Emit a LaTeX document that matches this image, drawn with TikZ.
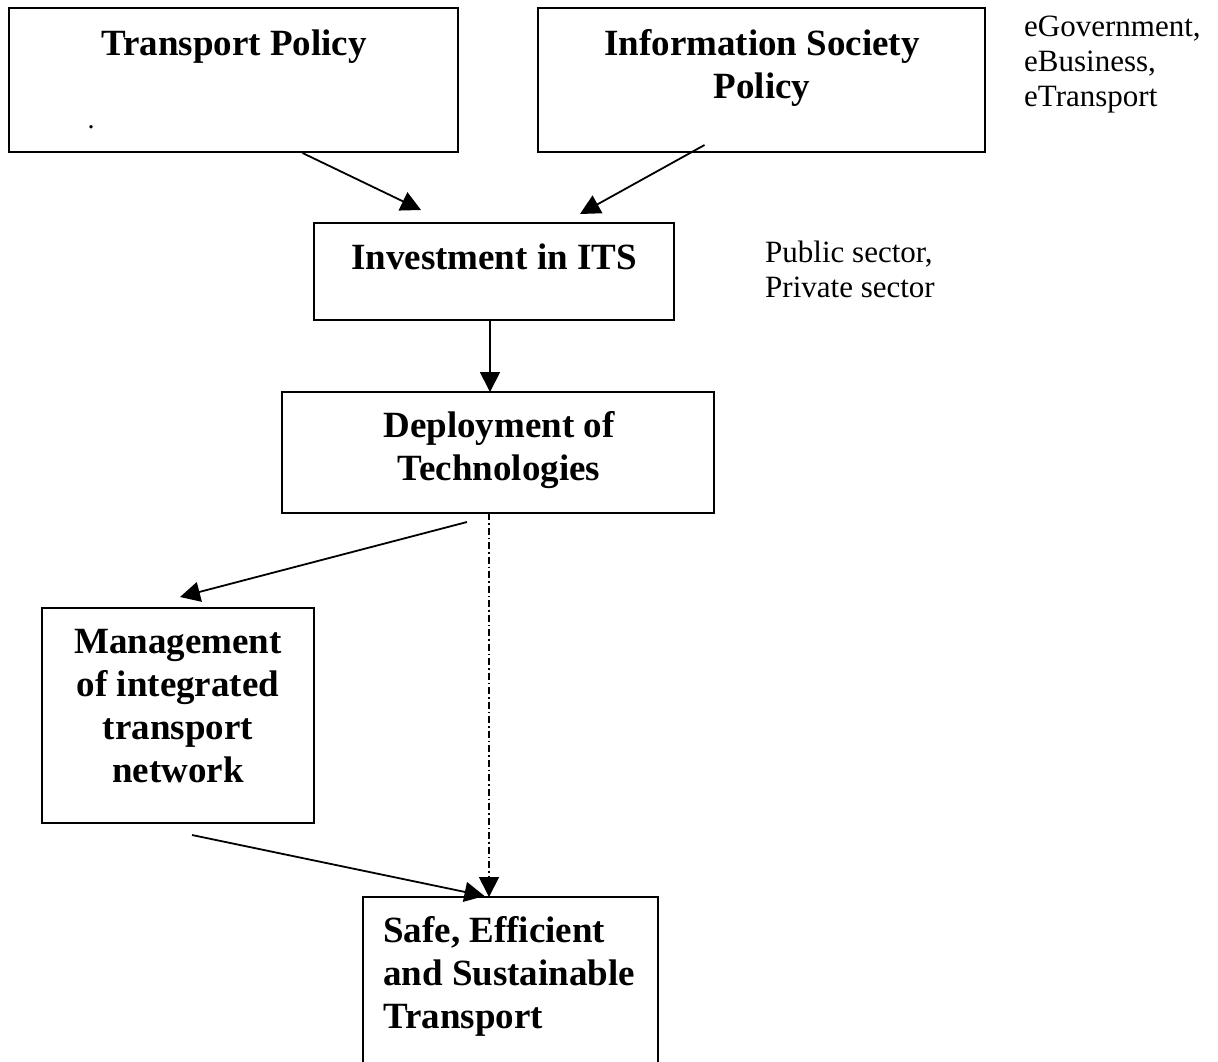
\documentclass[tikz,border=0pt]{standalone}
\usepackage{fontspec}
\setmainfont{Liberation Serif}
\usetikzlibrary{arrows.meta,calc}
% invisible strut fixing the height of a first line
\newcommand{\topstrut}[1]{\rule{0pt}{#1}}
\begin{document}
\begin{tikzpicture}[x=1pt,y=-1pt,
  box/.style={draw,line width=2pt,rectangle,inner sep=0pt,outer sep=0pt,anchor=north west},
  title/.style={inner sep=0pt,font=\fontsize{37}{43}\selectfont\bfseries,align=center},
  side/.style={inner sep=0pt,font=\fontsize{31}{35}\selectfont,align=left,anchor=north west},
  link/.style={line width=1.8pt,-{Triangle[length=20pt,width=20pt]}},
  dashlink/.style={link,dash pattern=on 7pt off 3pt on 1.5pt off 3pt}]
\useasboundingbox (0,0) rectangle (1218,1061);

% boxes
\node[box,minimum width=449pt,minimum height=144pt] (tp) at (9,8) {};
\node[box,minimum width=447pt,minimum height=144pt] (isp) at (538,8) {};
\node[box,minimum width=360pt,minimum height=97pt] (inv) at (314,223) {};
\node[box,minimum width=432pt,minimum height=121pt] (dep) at (282,392) {};
\node[box,minimum width=272pt,minimum height=215pt] (man) at (42,608) {};
\node[box,minimum width=295pt,minimum height=200pt] (safe) at (363,897) {};

% box texts
\node[title,anchor=base] (tpt) at (234,55) {Transport Policy};
\node[inner sep=0pt,font=\fontsize{28}{28}\selectfont] (dot) at (91,127) {.};
\node[title,anchor=north] (ispt) at (762,28) {\topstrut{27pt}Information Society\\Policy};
\node[title,anchor=base] (invt) at (494,269) {Investment in ITS};
\node[title,anchor=north] (dept) at (499,410) {\topstrut{27pt}Deployment of\\Technologies};
\node[title,anchor=north] (mant) at (178,626) {\topstrut{27pt}Management\\of integrated\\transport\\network};
\node[title,anchor=north west,align=left] (safet) at (383,915) {\topstrut{27pt}Safe, Efficient\\and Sustainable\\Transport};

% side notes
\node[side] (egov) at (1024,12) {\topstrut{24pt}eGovernment,\\eBusiness,\\eTransport};
\node[side] (sect) at (765,238) {\topstrut{24pt}Public sector,\\Private sector};

% connectors
\coordinate (a1) at ($(tp.south)+(69,1)$);
\coordinate (a1e) at ($(inv.north)+(-73,-13)$);
\coordinate (a2) at ($(isp.south)+(-57,-7)$);
\coordinate (a2e) at ($(inv.north)+(86,-9)$);
\coordinate (a5) at ($(dep.south)+(-31,9)$);
\coordinate (a5e) at ($(man.north)+(2,-11)$);
\coordinate (a6) at ($(man.south)+(14,12)$);
\coordinate (a6e) at ($(safe.north)+(-26,-1)$);
\draw[link] (a1) -- (a1e);
\draw[link] (a2) -- (a2e);
\draw[link] (inv.south -| 490,0) -- (dep.north -| 490,0);
\draw[link] (a5) -- (a5e);
\draw[dashlink] (dep.south -| 489,0) -- (safe.north -| 489,0);
\draw[link] (a6) -- (a6e);
\end{tikzpicture}
\end{document}
